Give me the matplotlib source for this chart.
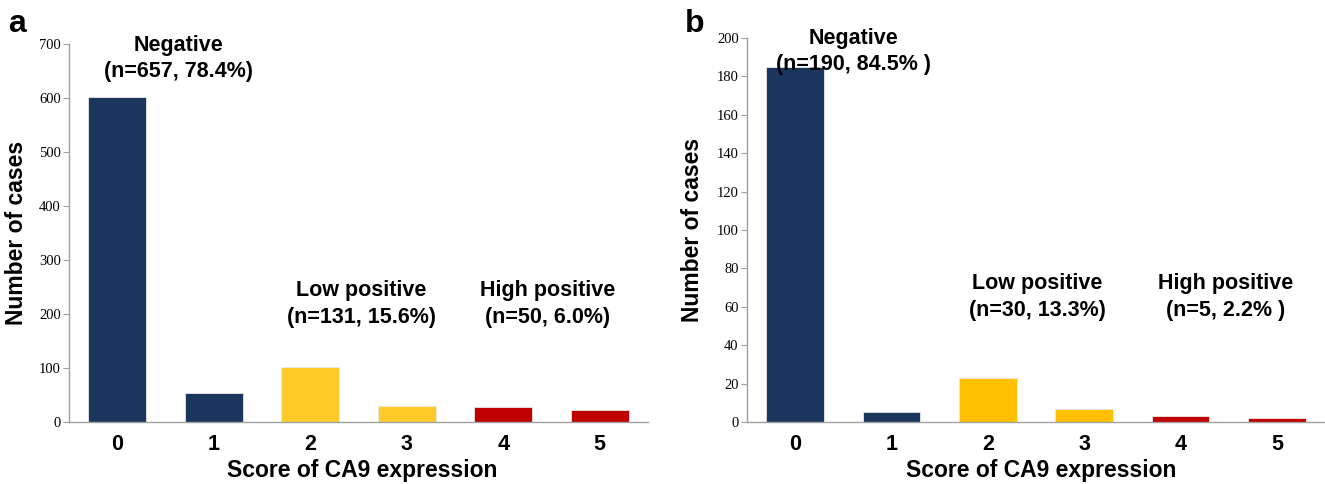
import numpy as np
from matplotlib import pyplot as plt

# data
scores = [0, 1, 2, 3, 4, 5]
cases_a = [602, 54, 101, 29, 28, 22]
cases_b = [185, 5, 23, 7, 3, 2]
groups = ['Negative', 'Low positive', 'High positive']
labels_a = ['(n=657, 78.4%)', '(n=131, 15.6%)', '(n=50, 6.0%)']
labels_b = ['(n=190, 84.5% )', '(n=30, 13.3%)', '(n=5, 2.2% )']

navy = '#1a365d'
red = '#c00000'
colors_a = [navy, navy, '#ffcb29', '#ffcb29', red, red]
colors_b = [navy, navy, '#ffc000', '#ffc000', red, red]

plt.rcParams['font.family'] = ['Liberation Sans', 'DejaVu Sans']

fig = plt.figure(figsize=(13.25, 4.84), dpi=100)
ax_a = fig.add_axes([69/1325, 62/484, 579/1325, 378/484])
ax_b = fig.add_axes([747/1325, 62/484, 578/1325, 384/484])


def draw_panel(ax, vals, cols, ymax, step, texts, text_pos):
    ax.bar(scores, vals, width=0.6, color=cols, edgecolor='#e8e8e8', linewidth=0.6)
    ax.set_xlim(-0.5, 5.5)
    ax.set_ylim(0, ymax)
    ax.set_yticks(np.arange(0, ymax + 1, step))
    ax.set_xticks(scores)
    for s in ['top', 'right']:
        ax.spines[s].set_visible(False)
    for s in ['left', 'bottom']:
        ax.spines[s].set_color('#a0a0a0')
        ax.spines[s].set_linewidth(1.0)
    ax.tick_params(axis='x', length=0, pad=9, labelsize=15.5)
    ax.tick_params(axis='y', length=4, width=0.8, color='#a0a0a0', pad=2, labelsize=10.5)
    for t in ax.get_xticklabels():
        t.set_fontweight('bold')
    for t in ax.get_yticklabels():
        t.set_family('Liberation Serif')
    ax.set_xlabel('Score of CA9 expression', fontsize=16.5, fontweight='bold')
    ax.set_ylabel('Number of cases', fontsize=16.5, fontweight='bold')
    for g, t, (x, y) in zip(groups, texts, text_pos):
        ax.text(x, y, g + '\n' + t, ha='center', va='center', fontsize=15.5,
                fontweight='bold', linespacing=1.35)


draw_panel(ax_a, cases_a, colors_a, 700, 100, labels_a,
           [(0.63, 673), (2.53, 218), (4.46, 218)])
draw_panel(ax_b, cases_b, colors_b, 200, 20, labels_b,
           [(0.61, 193), (2.51, 65), (4.47, 65)])

ax_a.yaxis.set_label_coords(-0.071, 0.5)
ax_b.yaxis.set_label_coords(-0.074, 0.5)
ax_a.xaxis.set_label_coords(0.506, -0.098)
ax_b.xaxis.set_label_coords(0.509, -0.096)

fig.text(8/1325, 1 - 32/484, 'a', fontsize=23, fontweight='bold', va='baseline')
fig.text(685/1325, 1 - 32/484, 'b', fontsize=23, fontweight='bold', va='baseline')

fig.savefig('out.png', dpi=100)
